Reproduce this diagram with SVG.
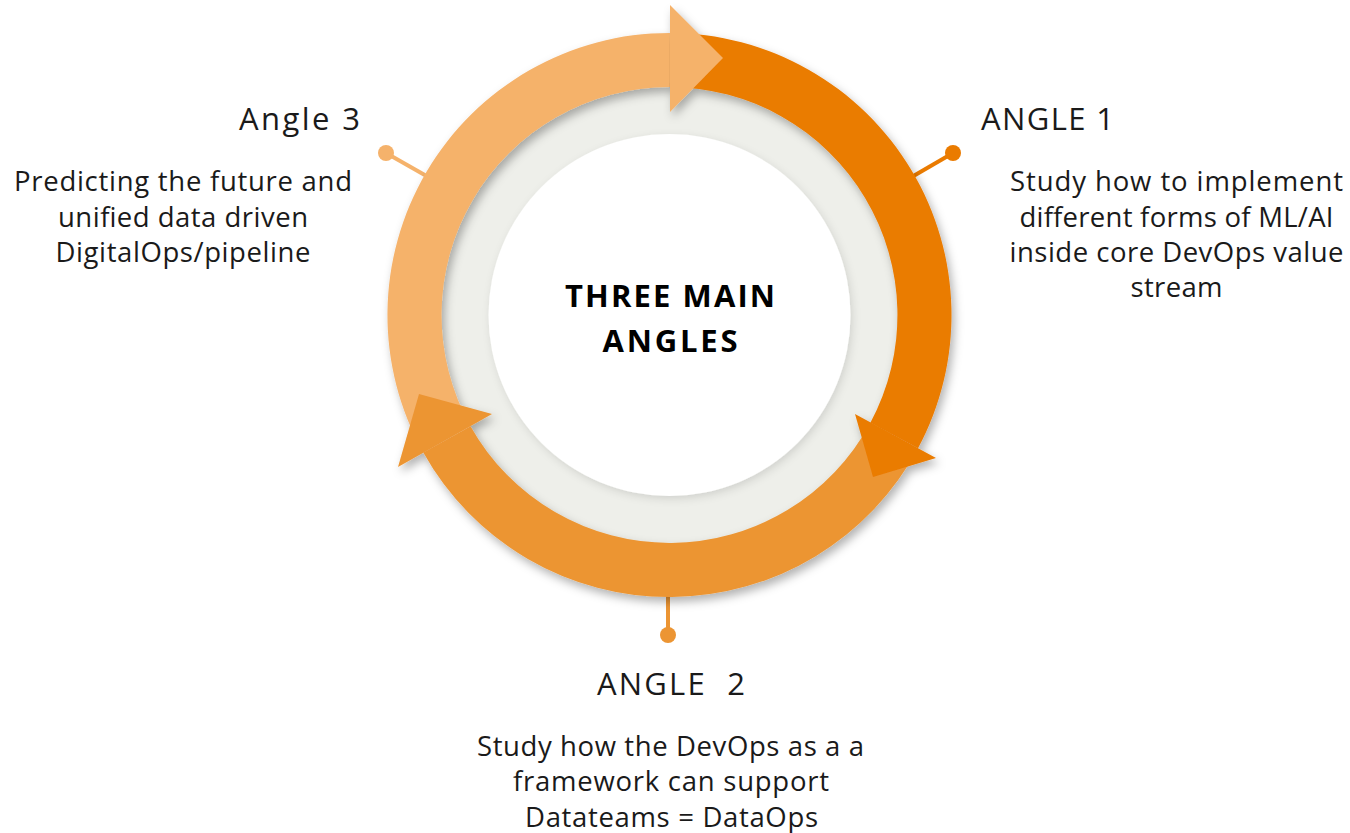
<svg xmlns="http://www.w3.org/2000/svg" width="1350" height="833" viewBox="0 0 1350 833">
  <defs>
    <filter id="ringShadow" x="-20%" y="-20%" width="140%" height="140%">
      <feDropShadow dx="3" dy="5" stdDeviation="5" flood-color="#000" flood-opacity="0.3"/>
    </filter>
    <filter id="discShadow" x="-20%" y="-20%" width="140%" height="140%">
      <feDropShadow dx="2" dy="3" stdDeviation="4" flood-color="#000" flood-opacity="0.12"/>
    </filter>
    <style>
      .txt { font-family: "Open Sans", "Liberation Sans", sans-serif; font-size: 27.5px; fill: #1a1a1a; }
      .head { font-family: "Open Sans", "Liberation Sans", sans-serif; font-size: 31px; fill: #1a1a1a; }
      .title { font-family: "Open Sans", "Liberation Sans", sans-serif; font-size: 31px; font-weight: bold; fill: #000; }
      .dark { fill: #EA7B00; }
      .mid { fill: #EC9533; }
      .light { fill: #F5B26B; }
    </style>
  </defs>
  <rect width="1350" height="833" fill="#ffffff"/>

  <g id="connectors">
    <line x1="386" y1="153" x2="430" y2="178" stroke="#F5B26B" stroke-width="4"/>
    <circle cx="386" cy="153" r="8" class="light"/>
    <line x1="953" y1="153" x2="910" y2="178" stroke="#EA7B00" stroke-width="4"/>
    <circle cx="953" cy="153" r="8" class="dark"/>
    <line x1="668" y1="590" x2="668" y2="635" stroke="#EC9533" stroke-width="4"/>
    <circle cx="668" cy="635" r="8" class="mid"/>
  </g>

  <g id="cycle">
    <circle cx="669.5" cy="315" r="232" fill="#EEEFEA"/>
    <circle cx="669.5" cy="315" r="181" fill="#ffffff" filter="url(#discShadow)"/>
    <g filter="url(#ringShadow)">
      <path class="dark" d="M669.5,33 A282,282 0 0 1 918.0,448.3 L870.4,422.7 A228,228 0 0 0 669.5,87 Z"/>
      <path class="mid" d="M918.0,448.3 A282,282 0 0 1 423.3,452.6 L470.5,426.2 A228,228 0 0 0 870.4,422.7 Z"/>
      <path class="light" d="M423.3,452.6 A282,282 0 0 1 669.5,33 L669.5,87 A228,228 0 0 0 470.5,426.2 Z"/>
      <polygon class="light" points="670,5 723,58 670,112"/>
      <polygon class="dark" points="855,414 936,458 873,477"/>
      <polygon class="mid" points="419,394 492,414 398,467"/>
    </g>
  </g>

  <g id="center">
    <text class="title" x="670" y="307" text-anchor="middle" textLength="210">THREE MAIN</text>
    <text class="title" x="670" y="352" text-anchor="middle" textLength="135">ANGLES</text>
  </g>

  <g id="angle3">
    <text class="head" x="360" y="130" text-anchor="end" textLength="121">Angle 3</text>
    <text class="txt" x="183" y="191" text-anchor="middle" textLength="338">Predicting the future and</text>
    <text class="txt" x="183" y="227" text-anchor="middle" textLength="250">unified data driven</text>
    <text class="txt" x="183" y="262" text-anchor="middle" textLength="255">DigitalOps/pipeline</text>
  </g>

  <g id="angle1">
    <text class="head" x="981" y="130" textLength="133">ANGLE 1</text>
    <text class="txt" x="1176.5" y="191" text-anchor="middle" textLength="333">Study how to implement</text>
    <text class="txt" x="1176.5" y="227" text-anchor="middle" textLength="314">different forms of ML/AI</text>
    <text class="txt" x="1176.5" y="262" text-anchor="middle" textLength="334">inside core DevOps value</text>
    <text class="txt" x="1176.5" y="297" text-anchor="middle" textLength="92">stream</text>
  </g>

  <g id="angle2">
    <text class="head" x="671" y="695" text-anchor="middle" textLength="148" xml:space="preserve">ANGLE  2</text>
    <text class="txt" x="670.5" y="756" text-anchor="middle" textLength="387">Study how the DevOps as a a</text>
    <text class="txt" x="671" y="791" text-anchor="middle" textLength="316">framework can support</text>
    <text class="txt" x="671.5" y="827" text-anchor="middle" textLength="293">Datateams = DataOps</text>
  </g>
</svg>
